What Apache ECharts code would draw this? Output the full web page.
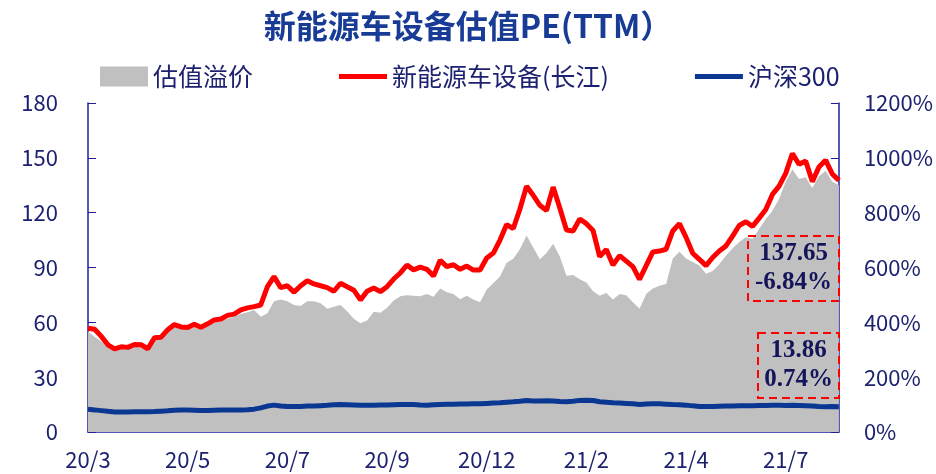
<!DOCTYPE html>
<html>
<head>
<meta charset="utf-8">
<script src="https://cdn.jsdelivr.net/npm/echarts@6/dist/echarts.min.js"></script>
<style>
  html, body { margin: 0; padding: 0; background: #fff; }
  #chart { width: 936px; height: 474px; }
</style>
</head>
<body>
<div id="chart"></div>
<script>
// x 轴刻度标签（每 15 个点一个）
const tickLabels = ['20/3', '20/5', '20/7', '20/9', '20/12', '21/2', '21/4', '21/7'];

// 新能源车设备(长江) PE(TTM)
const nevPE = [
  56.8, 56.2, 52.3, 47.7, 45.5, 46.6, 46.3, 47.9, 47.8, 45.5,
  51.6, 51.9, 56.0, 58.8, 57.5, 57.2, 59.0, 57.3, 59.2, 61.3,
  61.8, 63.8, 64.5, 66.8, 67.9, 68.6, 69.5, 79.5, 85.0, 79.0,
  80.0, 76.5, 80.0, 82.8, 81.0, 80.0, 79.0, 77.0, 81.4, 79.5,
  77.6, 72.3, 77.0, 78.8, 76.8, 79.5, 83.7, 87.0, 91.3, 88.7,
  90.2, 89.0, 85.3, 94.0, 90.5, 91.5, 89.0, 90.8, 88.6, 88.6,
  95.2, 97.9, 105.0, 113.5, 111.3, 122.0, 134.5, 129.5, 124.0, 121.2,
  134.0, 122.5, 110.5, 110.0, 116.5, 114.0, 110.3, 96.0, 99.8, 91.4,
  96.5, 93.5, 90.5, 83.5, 91.0, 98.5, 99.0, 100.0, 110.0, 114.0,
  106.5, 97.8, 94.5, 91.0, 95.5, 99.0, 101.8, 107.2, 113.0, 115.0,
  112.5, 117.0, 121.7, 130.0, 134.5, 141.5, 152.4, 146.5, 148.3, 137.0,
  145.0, 148.7, 141.2, 137.65
];

// 沪深300 PE(TTM)
const hs300PE = [
  12.4, 12.1, 11.7, 11.3, 11.0, 10.9, 11.0, 11.1, 11.1, 11.1,
  11.2, 11.4, 11.6, 11.9, 12.0, 12.0, 11.9, 11.8, 11.8, 11.9,
  12.0, 12.1, 12.1, 12.1, 12.2, 12.5, 13.2, 14.2, 14.7, 14.2,
  14.0, 13.9, 14.0, 14.2, 14.2, 14.4, 14.6, 14.9, 15.0, 14.9,
  14.8, 14.6, 14.6, 14.7, 14.8, 14.8, 14.9, 15.0, 15.1, 15.0,
  14.8, 14.7, 14.9, 15.1, 15.2, 15.2, 15.3, 15.3, 15.4, 15.4,
  15.6, 15.8, 16.0, 16.3, 16.5, 16.8, 17.2, 17.0, 16.9, 17.1,
  17.0, 16.7, 16.5, 16.8, 17.3, 17.4, 17.2, 16.6, 16.3, 16.0,
  15.8, 15.6, 15.4, 15.0, 15.3, 15.5, 15.4, 15.2, 15.0, 14.9,
  14.7, 14.3, 14.0, 13.9, 14.0, 14.1, 14.2, 14.2, 14.3, 14.4,
  14.4, 14.5, 14.5, 14.6, 14.6, 14.5, 14.6, 14.5, 14.4, 14.2,
  13.9, 13.8, 13.9, 13.86
];

// 估值溢价（%，右轴）
const premium = [
  367, 347, 330, 313, 297, 307, 311, 310, 310, 300,
  333, 353, 373, 387, 377, 373, 383, 379, 390, 400,
  403, 413, 420, 430, 437, 445, 420, 433, 477, 483,
  477, 463, 460, 477, 477, 470, 450, 457, 463, 440,
  413, 397, 407, 439, 435, 453, 480, 495, 499, 497,
  495, 503, 493, 523, 510, 503, 484, 497, 483, 473,
  520, 543, 567, 617, 632, 667, 717, 673, 630, 653,
  687, 640, 570, 573, 557, 545, 513, 497, 507, 483,
  503, 499, 473, 450, 503, 523, 533, 540, 633, 657,
  633, 620, 607, 577, 587, 612, 643, 670, 693, 710,
  705, 740, 777, 807, 850, 913, 957, 923, 929, 890,
  933, 953, 913, 900
];

const labelStep = 15;
const categories = nevPE.map((v, i) => (i % labelStep === 0 ? (tickLabels[i / labelStep] || '') : ''));

const navy = '#1C2170';
const axisBlue = '#1F1F9E';
const font = 'Noto Sans CJK SC';

const chart = echarts.init(document.getElementById('chart'), null, { renderer: 'canvas' });

// 最新值标注框
function noteBox(left, top, w, h, text) {
  return {
    type: 'group',
    left: left, top: top,
    children: [
      { type: 'rect', z: 100, shape: { x: 0, y: 0, width: w, height: h },
        style: { fill: 'transparent', stroke: '#FF0000', lineWidth: 2, lineDash: [8, 5] } },
      { type: 'text', z: 101, x: w / 2, y: h / 2,
        style: { text: text, fill: '#14145A', font: 'bold 25px "Liberation Serif"',
                 align: 'center', verticalAlign: 'middle', lineHeight: 29 } }
    ]
  };
}

option = {
  backgroundColor: '#fff',
  animation: false,
  title: {
    text: '新能源车设备估值PE(TTM）',
    left: 'center',
    top: 5,
    textStyle: { color: '#183B96', fontSize: 32, fontWeight: 'bold', fontFamily: font }
  },
  legend: [
    {
      data: ['估值溢价'],
      left: 95,
      top: 59,
      icon: 'rect',
      itemWidth: 48,
      itemHeight: 20,
      textStyle: { color: navy, fontSize: 25, fontFamily: font }
    },
    {
      data: ['新能源车设备(长江)', '沪深300'],
      left: 334,
      top: 59,
      icon: 'rect',
      itemWidth: 48,
      itemHeight: 5,
      itemGap: 86,
      textStyle: { color: navy, fontSize: 25, fontFamily: font }
    }
  ],
  grid: { left: 88, right: 94, top: 103, bottom: 42 },
  xAxis: {
    type: 'category',
    data: categories,
    boundaryGap: false,
    axisLine: { lineStyle: { color: axisBlue, width: 1.5 } },
    axisTick: { inside: true, length: 8, interval: labelStep - 1, lineStyle: { color: axisBlue } },
    axisLabel: { interval: labelStep - 1, color: navy, fontSize: 22, fontFamily: font, margin: 17 },
    splitLine: { show: false }
  },
  yAxis: [
    {
      type: 'value',
      min: 0, max: 180, interval: 30,
      axisLine: { show: true, lineStyle: { color: axisBlue, width: 1.5 } },
      axisTick: { show: true, inside: true, length: 8, lineStyle: { color: axisBlue } },
      axisLabel: { color: navy, fontSize: 22, fontFamily: font, margin: 30 },
      splitLine: { show: false }
    },
    {
      type: 'value',
      min: 0, max: 1200, interval: 200,
      axisLine: { show: true, lineStyle: { color: axisBlue, width: 1.5 } },
      axisTick: { show: true, inside: true, length: 8, lineStyle: { color: axisBlue } },
      axisLabel: { color: navy, fontSize: 22, fontFamily: font, margin: 25,
                   formatter: v => v + '%' },
      splitLine: { show: false }
    }
  ],
  series: [
    {
      name: '估值溢价',
      type: 'line',
      yAxisIndex: 1,
      data: premium,
      symbol: 'none',
      itemStyle: { color: '#C0C0C0' },
      lineStyle: { width: 0 },
      areaStyle: { color: '#C0C0C0', opacity: 1 },
      z: 1
    },
    {
      name: '新能源车设备(长江)',
      type: 'line',
      yAxisIndex: 0,
      data: nevPE,
      symbol: 'none',
      itemStyle: { color: '#FF0000' },
      lineStyle: { color: '#FF0000', width: 5 },
      z: 3
    },
    {
      name: '沪深300',
      type: 'line',
      yAxisIndex: 0,
      data: hs300PE,
      symbol: 'none',
      itemStyle: { color: '#0A3791' },
      lineStyle: { color: '#0A3791', width: 5 },
      z: 3
    }
  ],
  graphic: [
    noteBox(747, 235, 91, 65, '137.65\n-6.84%'),
    noteBox(757, 332, 81, 65, '13.86\n0.74%')
  ]
};

chart.setOption(option);
</script>
</body>
</html>
